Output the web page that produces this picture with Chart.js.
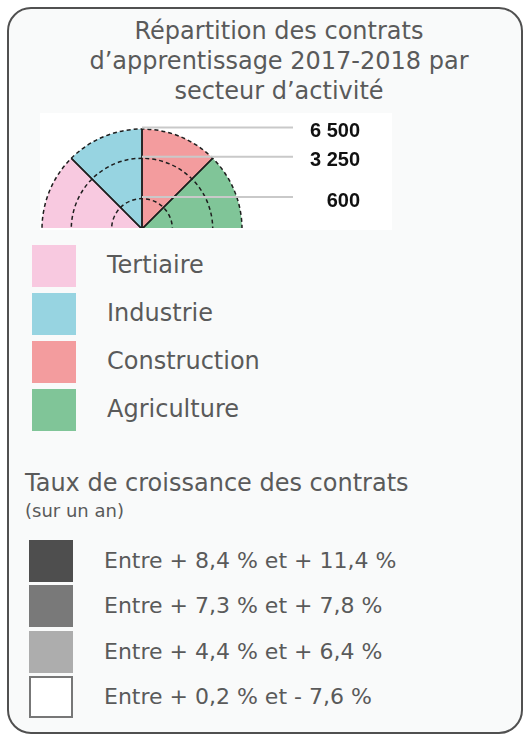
<!DOCTYPE html>
<html lang="fr">
<head>
<meta charset="utf-8">
<script src="https://cdn.jsdelivr.net/npm/chart.js@4/dist/chart.umd.min.js"></script>
<style>
  html, body { margin: 0; padding: 0; background: #ffffff; }
  body { width: 529px; height: 735px; position: relative; overflow: hidden; font-family: "DejaVu Sans", sans-serif; color: #5a5a5a; }
  #frame { position: absolute; left: 7px; top: 7px; width: 512px; height: 723px; border: 2px solid #505050; border-radius: 24px; background: #f9fafa; }
  .abs { position: absolute; white-space: nowrap; }
  #title { left: 60px; top: 16px; width: 438px; text-align: center; font-size: 24px; line-height: 30px; white-space: normal; }
  #symbol { position: absolute; left: 40px; top: 113px; width: 352px; height: 117px; background: #ffffff; }
  #clip { position: absolute; left: 0; top: 0; width: 352px; height: 115px; overflow: hidden; }
  #clip canvas { position: absolute; left: 0; top: 0; }
  .sw { position: absolute; }
  .lab1 { font-size: 24px; line-height: 42px; }
  .lab2 { font-size: 22px; line-height: 42px; }
</style>
</head>
<body>
<div id="frame"></div>
<div id="title" class="abs">Répartition des contrats d’apprentissage 2017-2018 par secteur d’activité</div>
<div id="symbol"><div id="clip"><canvas id="c" width="352" height="232"></canvas></div></div>
<div id="legend1"></div>
<div class="abs" style="left:25px;top:468px;font-size:24px;line-height:30px;">Taux de croissance des contrats</div>
<div class="abs" style="left:25px;top:500px;font-size:18px;line-height:22px;">(sur un an)</div>
<div id="legend2"></div>
<script>
// ---- data ----
const sectors = ['Tertiaire', 'Industrie', 'Construction', 'Agriculture'];
const sectorColors = ['#f8c9e0', '#97d4e1', '#f39c9e', '#80c598'];
const sectorValues = [6500, 6500, 6500, 6500];
const sizeTicks = [600, 3250, 6500];
const sizeTickLabels = ['600', '3 250', '6 500'];
const growthClasses = ['Entre + 8,4 % et + 11,4 %', 'Entre + 7,3 % et + 7,8 %', 'Entre + 4,4 % et + 6,4 %', 'Entre + 0,2 % et - 7,6 %'];
const growthColors = ['#4e4e4e', '#797979', '#adadad', '#ffffff'];

// ---- HTML legends ----
const l1 = document.getElementById('legend1');
sectors.forEach((s, i) => {
  const top = 245 + i * 48;
  l1.insertAdjacentHTML('beforeend',
    `<div class="sw" style="left:32px;top:${top}px;width:44px;height:42px;background:${sectorColors[i]}"></div>` +
    `<div class="abs lab1" style="left:107px;top:${top - 1}px">${s}</div>`);
});
const l2 = document.getElementById('legend2');
growthClasses.forEach((s, i) => {
  const top = Math.round(540 + i * 45.3);
  const border = growthColors[i] === '#ffffff' ? 'border:2px solid #777;box-sizing:border-box;' : '';
  l2.insertAdjacentHTML('beforeend',
    `<div class="sw" style="left:29px;top:${top}px;width:44px;height:42px;background:${growthColors[i]};${border}"></div>` +
    `<div class="abs lab2" style="left:104px;top:${top}px">${s}</div>`);
});

// ---- chart ----
const sqrt = Math.sqrt;
const radialEdges = {
  id: 'radialEdges',
  afterDatasetsDraw(chart) {
    const ctx = chart.ctx;
    const arcs = chart.getDatasetMeta(0).data;
    ctx.save();
    ctx.strokeStyle = '#1e1e1e';
    ctx.lineWidth = 1.5;
    arcs.forEach(a => {
      [a.startAngle, a.endAngle].forEach(ang => {
        ctx.beginPath();
        ctx.moveTo(a.x, a.y);
        ctx.lineTo(a.x + Math.cos(ang) * a.outerRadius, a.y + Math.sin(ang) * a.outerRadius);
        ctx.stroke();
      });
    });
    ctx.restore();
  },
  afterDraw(chart) {
    const ctx = chart.ctx;
    const r = chart.scales.r;
    const cx = r.xCenter, cy = r.yCenter;
    ctx.save();
    sizeTicks.forEach((v, i) => {
      const rr = r.getDistanceFromCenterForValue(sqrt(v));
      const y = cy - rr - 1.5;
      ctx.strokeStyle = '#c9c9c9';
      ctx.lineWidth = 2;
      ctx.beginPath();
      ctx.moveTo(cx, y);
      ctx.lineTo(cx + 151, y);
      ctx.stroke();
      ctx.fillStyle = '#111';
      ctx.font = 'bold 20px "Liberation Sans", Arial, sans-serif';
      ctx.textAlign = 'right';
      ctx.textBaseline = 'middle';
      ctx.fillText(sizeTickLabels[i], cx + 218, y + 4);
    });
    ctx.restore();
  }
};

new Chart(document.getElementById('c'), {
  type: 'polarArea',
  data: {
    labels: sectors,
    datasets: [{
      data: sectorValues.map(v => sqrt(v)),
      backgroundColor: sectorColors,
      borderWidth: 0,
      angle: 180 / sectors.length
    }]
  },
  options: {
    responsive: false,
    animation: false,
    layout: { padding: { left: 2, top: 16, right: 150, bottom: 16 } },
    plugins: { legend: { display: false }, tooltip: { enabled: false } },
    scales: {
      r: {
        min: 0,
        max: sqrt(Math.max(...sizeTicks)),
        startAngle: -90,
        ticks: { display: false },
        pointLabels: { display: false },
        angleLines: { display: false },
        afterBuildTicks: s => { s.ticks = [0, ...sizeTicks].map(v => ({ value: sqrt(v) })); },
        grid: { z: 1, circular: true, color: '#1e1e1e', lineWidth: 1.5 },
        border: { dash: [4, 3] }
      }
    }
  },
  plugins: [radialEdges]
});
</script>
</body>
</html>
